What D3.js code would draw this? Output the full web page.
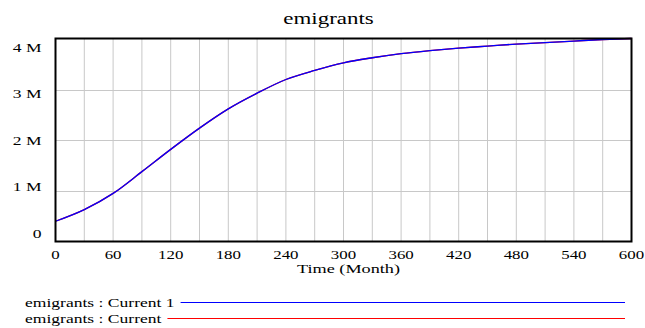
<!DOCTYPE html>
<html>
<head>
<meta charset="utf-8">
<script src="https://cdn.jsdelivr.net/npm/d3@7"></script>
<style>
  html, body { margin: 0; padding: 0; background: #fff; }
</style>
</head>
<body>
<svg id="chart" width="645" height="328" font-family="'Liberation Serif', 'Times New Roman', Times, serif"></svg>
<script>
// ---- data ----
const months = [0, 30, 60, 90, 120, 150, 180, 210, 240, 270, 300, 330, 360, 390, 420, 450, 480, 510, 540, 570, 600];
const current1 = [0.40e6, 0.63e6, 0.95e6, 1.38e6, 1.82e6, 2.24e6, 2.62e6, 2.93e6, 3.20e6, 3.38e6, 3.53e6, 3.63e6, 3.71e6, 3.77e6, 3.82e6, 3.86e6, 3.90e6, 3.93e6, 3.96e6, 3.99e6, 4.01e6];
const current  = [0.40e6, 0.63e6, 0.95e6, 1.38e6, 1.82e6, 2.24e6, 2.62e6, 2.93e6, 3.20e6, 3.38e6, 3.53e6, 3.63e6, 3.71e6, 3.77e6, 3.82e6, 3.86e6, 3.90e6, 3.93e6, 3.96e6, 3.99e6, 4.01e6];
const xTickValues = [0, 60, 120, 180, 240, 300, 360, 420, 480, 540, 600];
const xGridValues = d3.range(0, 601, 30);
const yGridValues = [1e6, 2e6, 3e6];
const yTickLabels = ["4 M", "3 M", "2 M", "1 M", "0"];
const seriesNames = ["emigrants : Current 1", "emigrants : Current"];
const seriesColors = ["#0000ff", "#ff0000"];

// ---- layout ----
const svg = d3.select("#chart");
const pLeft = 55.5, pRight = 631.5, pTop = 38.5, pBottom = 241.5;
const SX = 1.35; // horizontal stretch of the lettering
const x = d3.scaleLinear().domain([0, 600]).range([pLeft, pRight]);
const y = d3.scaleLinear().domain([0, 4.01e6]).range([pBottom, pTop]);
const yLabelPos = d3.scalePoint().domain(yTickLabels).range([47, 233]);

function label(parent, tx, baseline, str, size, anchor, sx) {
  const s = sx || SX;
  const g = parent.append("g").attr("transform", `translate(${tx},${baseline}) scale(${s},1)`);
  const t = g.append("text").attr("x", 0).attr("y", 0)
    .attr("text-anchor", anchor)
    .attr("font-family", "'Liberation Serif', 'Times New Roman', Times, serif")
    .attr("fill", "#000")
    .attr("font-size", size).text(str);
  return t.node().getComputedTextLength() * s;
}

// gridlines
svg.append("g").selectAll("line").data(xGridValues).join("line")
  .attr("x1", d => x(d)).attr("x2", d => x(d))
  .attr("y1", pTop).attr("y2", pBottom)
  .attr("stroke", "#c8c8c8").attr("stroke-width", 1);
svg.append("g").selectAll("line").data(yGridValues).join("line")
  .attr("x1", pLeft).attr("x2", pRight)
  .attr("y1", d => Math.round(y(d)) + 0.5).attr("y2", d => Math.round(y(d)) + 0.5)
  .attr("stroke", "#c8c8c8").attr("stroke-width", 1);

// series lines (red under blue)
const line = d3.line().x(d => x(d[0])).y(d => y(d[1])).curve(d3.curveMonotoneX);
svg.append("path").datum(months.map((m, i) => [m, current[i]]))
  .attr("d", line).attr("fill", "none").attr("stroke", seriesColors[1]).attr("stroke-width", 1.3);
svg.append("path").datum(months.map((m, i) => [m, current1[i]]))
  .attr("d", line).attr("fill", "none").attr("stroke", seriesColors[0]).attr("stroke-width", 1.3);

// frame
svg.append("rect").attr("x", pLeft).attr("y", pTop)
  .attr("width", pRight - pLeft).attr("height", pBottom - pTop)
  .attr("fill", "none").attr("stroke", "#000").attr("stroke-width", 2);

// x tick labels
const gx = svg.append("g");
xTickValues.forEach(d => label(gx, x(d), 258.5, String(d), 12.5, "middle"));

// y tick labels
const gy = svg.append("g");
yTickLabels.forEach(d => label(gy, 41.5, yLabelPos(d) + 4.5, d, 13, "end"));

// title & axis title
label(svg, 328.5, 24, "emigrants", 17, "middle");
label(svg, 348.5, 273, "Time (Month)", 13, "middle", 1.4);

// legend
const legY = [302.5, 318.5];
seriesNames.forEach((name, i) => {
  const w = label(svg, 25, legY[i] + 4.5, name, 13, "start");
  svg.append("line").attr("x1", 25 + w + 6).attr("x2", 625)
    .attr("y1", legY[i]).attr("y2", legY[i])
    .attr("stroke", seriesColors[i]).attr("stroke-width", 1.2);
});
</script>
</body>
</html>
